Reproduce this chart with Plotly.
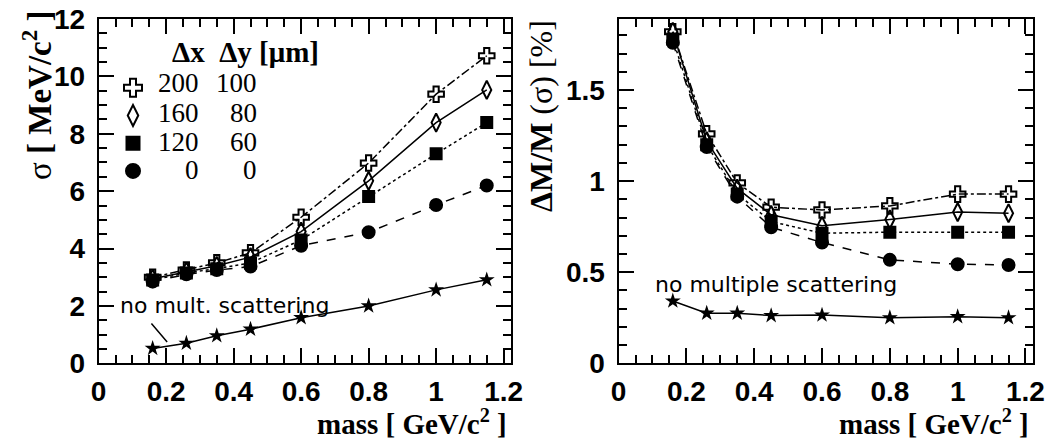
import plotly.graph_objects as go

# ---- data ----
mass = [0.16, 0.26, 0.35, 0.45, 0.60, 0.80, 1.00, 1.15]

# left panel: sigma [MeV/c^2]
sig_200_100 = [3.00, 3.25, 3.50, 3.85, 5.09, 6.98, 9.38, 10.72]
sig_160_80 = [2.95, 3.20, 3.40, 3.70, 4.59, 6.36, 8.39, 9.53]
sig_120_60 = [2.90, 3.15, 3.30, 3.50, 4.30, 5.81, 7.30, 8.39]
sig_0_0 = [2.85, 3.10, 3.25, 3.37, 4.10, 4.57, 5.52, 6.20]
sig_noms = [0.52, 0.70, 0.96, 1.19, 1.59, 2.00, 2.56, 2.91]

# right panel: dM/M [%]
res_200_100 = [1.82, 1.26, 0.99, 0.857, 0.842, 0.864, 0.929, 0.929]
res_160_80 = [1.82, 1.22, 0.96, 0.815, 0.755, 0.79, 0.83, 0.824]
res_120_60 = [1.78, 1.20, 0.93, 0.778, 0.714, 0.72, 0.72, 0.72]
res_0_0 = [1.76, 1.187, 0.915, 0.747, 0.663, 0.568, 0.544, 0.54]
res_noms = [0.342, 0.275, 0.275, 0.262, 0.265, 0.25, 0.256, 0.25]

# legend columns: delta x, delta y [um]
dx_vals = ["200", "160", "120", "0"]
dy_vals = ["100", "80", "60", "0"]

styles = [
    dict(symbol="cross-open", size=13, dash="dashdot"),
    dict(symbol="diamond-tall-open", size=13, dash="solid"),
    dict(symbol="square", size=11, dash="dot"),
    dict(symbol="circle", size=12, dash="dash"),
]

fig = go.Figure()

left_series = [sig_200_100, sig_160_80, sig_120_60, sig_0_0]
right_series = [res_200_100, res_160_80, res_120_60, res_0_0]

for ys, st in zip(left_series, styles):
    fig.add_trace(go.Scatter(
        x=mass, y=ys, mode="lines+markers", showlegend=False,
        line=dict(color="black", width=1.5, dash=st["dash"]),
        marker=dict(symbol=st["symbol"], size=st["size"], color="black",
                    line=dict(color="black", width=2)),
        xaxis="x", yaxis="y"))
fig.add_trace(go.Scatter(
    x=mass, y=sig_noms, mode="lines+markers", showlegend=False,
    line=dict(color="black", width=1.5),
    marker=dict(symbol="star", size=12, color="black"),
    xaxis="x", yaxis="y"))

for ys, st in zip(right_series, styles):
    fig.add_trace(go.Scatter(
        x=mass, y=ys, mode="lines+markers", showlegend=False,
        line=dict(color="black", width=1.5, dash=st["dash"]),
        marker=dict(symbol=st["symbol"], size=st["size"], color="black",
                    line=dict(color="black", width=2)),
        xaxis="x2", yaxis="y2"))
fig.add_trace(go.Scatter(
    x=mass, y=res_noms, mode="lines+markers", showlegend=False,
    line=dict(color="black", width=1.5),
    marker=dict(symbol="star", size=12, color="black"),
    xaxis="x2", yaxis="y2"))

# legend-only entries (markers only)
for i, st in enumerate(styles):
    fig.add_trace(go.Scatter(
        x=[None], y=[None], mode="markers", name="\u00a0" * (i + 1),
        marker=dict(symbol=st["symbol"], size=st["size"] + 2, color="black",
                    line=dict(color="black", width=2)),
        xaxis="x", yaxis="y"))

tickfont = dict(family="Liberation Sans", size=28, color="black", weight="bold")

def xax(domain, anchor):
    return dict(domain=domain, anchor=anchor, range=[0, 1.222], dtick=0.2, tick0=0,
                ticks="inside", ticklen=15, tickwidth=1.5, tickcolor="black",
                minor=dict(dtick=0.05, ticklen=8, tickwidth=1.5, tickcolor="black", ticks="inside"),
                showline=True, linewidth=2, linecolor="black", mirror="allticks",
                showgrid=False, zeroline=False, tickfont=tickfont, ticklabelstandoff=2,
                automargin=False)

def yax(domain, anchor, rng, dt, mdt):
    return dict(domain=domain, anchor=anchor, range=rng, dtick=dt, tick0=0,
                ticks="inside", ticklen=15, tickwidth=1.5, tickcolor="black",
                minor=dict(dtick=mdt, ticklen=8, tickwidth=1.5, tickcolor="black", ticks="inside"),
                showline=True, linewidth=2, linecolor="black", mirror="allticks",
                showgrid=False, zeroline=False, tickfont=tickfont, ticklabelstandoff=6,
                automargin=False)

ydom = [0.1724, 0.9567]
fig.update_layout(
    width=1055, height=439,
    margin=dict(l=0, r=0, t=0, b=0, autoexpand=False),
    paper_bgcolor="white", plot_bgcolor="white",
    xaxis=xax([0.0935, 0.4844], "y"),
    yaxis=yax(ydom, "x", [0, 12], 2, 0.5),
    xaxis2=xax([0.5863, 0.9791], "y2"),
    yaxis2=yax(ydom, "x2", [0, 1.89], 0.5, 0.1),
    showlegend=True,
    legend=dict(x=113 / 1055, y=1 - 69 / 439, xanchor="left", yanchor="top",
                bgcolor="rgba(0,0,0,0)", borderwidth=0,
                font=dict(family="Liberation Serif", size=19, color="black"),
                itemwidth=30, tracegroupgap=0),
)

serif = "Liberation Serif"
ann = []
# legend header and columns
ann.append(dict(xref="paper", yref="paper", x=170 / 1055, y=1 - 52 / 439,
                xanchor="left", yanchor="middle", showarrow=False,
                text="<b>\u0394x\u00a0\u00a0\u0394y [\u03bcm]</b>",
                font=dict(family=serif, size=29, color="black")))
row_y = [83, 113, 142, 170]
for dxv, dyv, ry in zip(dx_vals, dy_vals, row_y):
    ann.append(dict(xref="paper", yref="paper", x=201 / 1055, y=1 - ry / 439,
                    xanchor="right", yanchor="middle", showarrow=False, text=dxv,
                    font=dict(family=serif, size=27, color="black")))
    ann.append(dict(xref="paper", yref="paper", x=259 / 1055, y=1 - ry / 439,
                    xanchor="right", yanchor="middle", showarrow=False, text=dyv,
                    font=dict(family=serif, size=27, color="black")))
# axis titles
for xr in [509 / 1055, 1031 / 1055]:
    ann.append(dict(xref="paper", yref="paper", x=xr, y=1 - 422 / 439,
                    xanchor="right", yanchor="middle", showarrow=False,
                    text="<b>mass [ GeV/c<sup>2</sup> ]</b>",
                    font=dict(family=serif, size=29, color="black")))
ann.append(dict(xref="paper", yref="paper", x=37 / 1055, y=1 - 8 / 439,
                xanchor="center", yanchor="top", showarrow=False, textangle=-90,
                text="\u03c3 <b>[ MeV/c<sup>2</sup> ]</b>",
                font=dict(family=serif, size=33, color="black")))
ann.append(dict(xref="paper", yref="paper", x=541 / 1055, y=1 - 18 / 439,
                xanchor="center", yanchor="top", showarrow=False, textangle=-90,
                text="<b>\u0394M/M</b> (\u03c3) [%]",
                font=dict(family=serif, size=32, color="black")))
# in-plot labels
ann.append(dict(xref="x", yref="y", x=0.057, y=2.0, xanchor="left", yanchor="middle",
                showarrow=False, text="no mult. scattering",
                font=dict(family="DejaVu Sans", size=22, color="black")))
ann.append(dict(xref="x", yref="y", x=0.203, y=0.74, ax=-17, ay=-20, showarrow=True,
                arrowhead=0, arrowwidth=1.5, arrowcolor="black", text=""))
ann.append(dict(xref="x2", yref="y2", x=0.101, y=0.43, xanchor="left", yanchor="middle",
                showarrow=False, text="no multiple scattering",
                font=dict(family="DejaVu Sans", size=22, color="black")))
fig.update_layout(annotations=ann)

fig.write_html(
    "out.html",
    config={"displayModeBar": False},
    post_script="document.body.style.margin='0';document.body.style.overflow='hidden';",
)
